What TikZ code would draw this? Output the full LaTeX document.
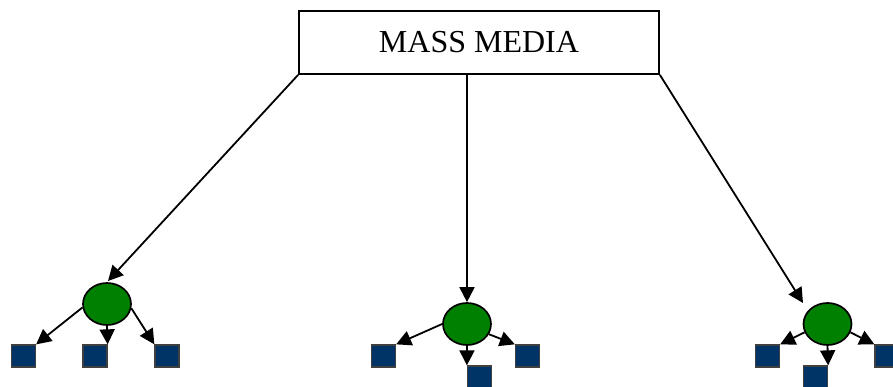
\documentclass[tikz,border=0pt]{standalone}
\usepackage{fontspec}
\setmainfont{Liberation Serif}
\usetikzlibrary{arrows.meta,shapes.geometric}
\definecolor{hubgreen}{RGB}{0,128,0}
\definecolor{leafblue}{RGB}{0,51,102}
\tikzset{
  mediabox/.style={draw=black, line width=1.8pt, fill=white, minimum width=360pt,
    minimum height=63pt, inner sep=0pt, font=\fontsize{32}{36}\selectfont},
  hub/.style={ellipse, draw=black, line width=1.7pt, fill=hubgreen,
    minimum width=48pt, minimum height=42pt, inner sep=0pt},
  leaf/.style={rectangle, draw=black!75, line width=1.3pt, fill=leafblue,
    minimum width=24pt, minimum height=22pt, inner sep=0pt},
  link/.style={line width=1.8pt, -{Triangle[length=15pt,width=15pt]}}
}
\begin{document}
\begin{tikzpicture}[x=1pt,y=-1pt]
  \useasboundingbox (0,0) rectangle (893,387);

  % top source
  \node[mediabox] (box) at (479,42.5) {MASS MEDIA};

  % three receivers
  \node[hub] (e1) at (107,304) {};
  \node[hub] (e2) at (467,324) {};
  \node[hub] (e3) at (827.5,324) {};

  % leaves of the left receiver
  \node[leaf] (s1) at (23.5,356) {};
  \node[leaf] (s2) at (95,356) {};
  \node[leaf] (s3) at (167,356) {};
  % leaves of the middle receiver
  \node[leaf] (s4) at (383.5,356) {};
  \node[leaf] (s5) at (479.5,377) {};
  \node[leaf] (s6) at (527.5,356) {};
  % leaves of the right receiver
  \node[leaf] (s7) at (767.5,356) {};
  \node[leaf] (s8) at (815.5,377) {};
  \node[leaf] (s9) at (887,356) {};

  % arrow ends above the side receivers
  \coordinate (t1) at (108,281);
  \coordinate (t3) at (803,303);

  % from the source to the receivers
  \draw[link] (box.south west) -- (t1);
  \draw[link] (e2 |- box.south) -- (e2.north);
  \draw[link] (box.south east) -- (t3);

  % from each receiver to its leaves
  \draw[link] (e1.188) -- (s1.north east);
  \draw[link] (e1.south) -- (s2.north east);
  \draw[link] (e1.-10) -- (s3.north west);

  \draw[link] (e2.west) -- (s4.north east);
  \draw[link] (e2.south) -- (s5.north west);
  \draw[link] (e2.-25) -- (s6.north west);

  \draw[link] (e3.200) -- (s7.north east);
  \draw[link] (e3.south) -- (s8.north east);
  \draw[link] (e3.-20) -- (s9.north west);
\end{tikzpicture}
\end{document}
